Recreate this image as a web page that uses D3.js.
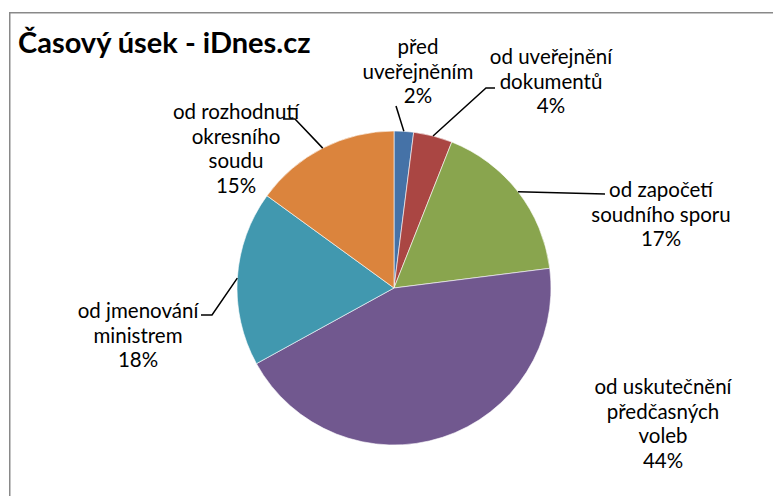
<!DOCTYPE html>
<html>
<head>
<meta charset="utf-8">
<script src="https://cdn.jsdelivr.net/npm/d3@7/dist/d3.min.js"></script>
<style>
  html, body { margin: 0; padding: 0; background: #fff; }
  svg { display: block; }
  text { font-family: Lato, "Open Sans", sans-serif; fill: #000; }
</style>
</head>
<body>
<svg id="chart" width="773" height="496"></svg>
<script>
// ---- data ----
const title = "Časový úsek - iDnes.cz";
const categories = [
  "před uveřejněním",
  "od uveřejnění dokumentů",
  "od započetí soudního sporu",
  "od uskutečnění předčasných voleb",
  "od jmenování ministrem",
  "od rozhodnutí okresního soudu"
];
const values = [2, 4, 17, 44, 18, 15];
const labelLines = [
  ["před", "uveřejněním", "2%"],
  ["od uveřejnění", "dokumentů", "4%"],
  ["od započetí", "soudního sporu", "17%"],
  ["od uskutečnění", "předčasných", "voleb", "44%"],
  ["od jmenování", "ministrem", "18%"],
  ["od rozhodnutí", "okresního", "soudu", "15%"]
];
const colors = ["#4572a7", "#aa4643", "#89a54e", "#71588f", "#4198af", "#db843d"];

// ---- layout (label placement) ----
const cx = 394, cy = 288, R = 157;
const lineH = 24.6;
const labelPos = [
  {x: 418, y: 47},
  {x: 551, y: 57},
  {x: 661, y: 190},
  {x: 663, y: 387},
  {x: 138, y: 311},
  {x: 236, y: 112}
];
const leaders = [
  [[396, 106]],
  [[486, 88], [495, 88]],
  [[605, 194]],
  null,
  [[212, 315], [201, 315]],
  [[295, 119], [283, 119]]
];

const svg = d3.select("#chart");

svg.append("rect")
  .attr("x", 9.75).attr("y", 12.75)
  .attr("width", 800).attr("height", 520)
  .attr("fill", "#fff")
  .attr("stroke", "#898989").attr("stroke-width", 1.5);

svg.append("text")
  .attr("x", 18).attr("y", 53)
  .attr("font-size", 29).attr("font-weight", "bold")
  .text(title);

const pie = d3.pie().sort(null).value(d => d)
  .startAngle(0).endAngle(2 * Math.PI);
const arcs = pie(values);
const arc = d3.arc().innerRadius(0).outerRadius(R);

const g = svg.append("g").attr("transform", `translate(${cx},${cy})`);
g.selectAll("path.slice").data(arcs).join("path")
  .attr("class", "slice")
  .attr("d", arc)
  .attr("fill", (d, i) => colors[i])
  .attr("stroke", "#ffffff").attr("stroke-width", 0.6);

arcs.forEach((a, i) => {
  if (!leaders[i]) return;
  const mid = (a.startAngle + a.endAngle) / 2;
  const p0 = [cx + R * Math.sin(mid), cy - R * Math.cos(mid)];
  const pts = [p0].concat(leaders[i]);
  svg.append("path")
    .attr("d", d3.line()(pts))
    .attr("fill", "none")
    .attr("stroke", "#000").attr("stroke-width", 1.5);
});

labelLines.forEach((lines, i) => {
  const t = svg.append("text")
    .attr("text-anchor", "middle")
    .attr("font-size", 20.5);
  lines.forEach((ln, j) => {
    t.append("tspan")
      .attr("x", labelPos[i].x)
      .attr("y", labelPos[i].y + j * lineH)
      .attr("dy", "0.35em")
      .text(ln);
  });
});
</script>
</body>
</html>
